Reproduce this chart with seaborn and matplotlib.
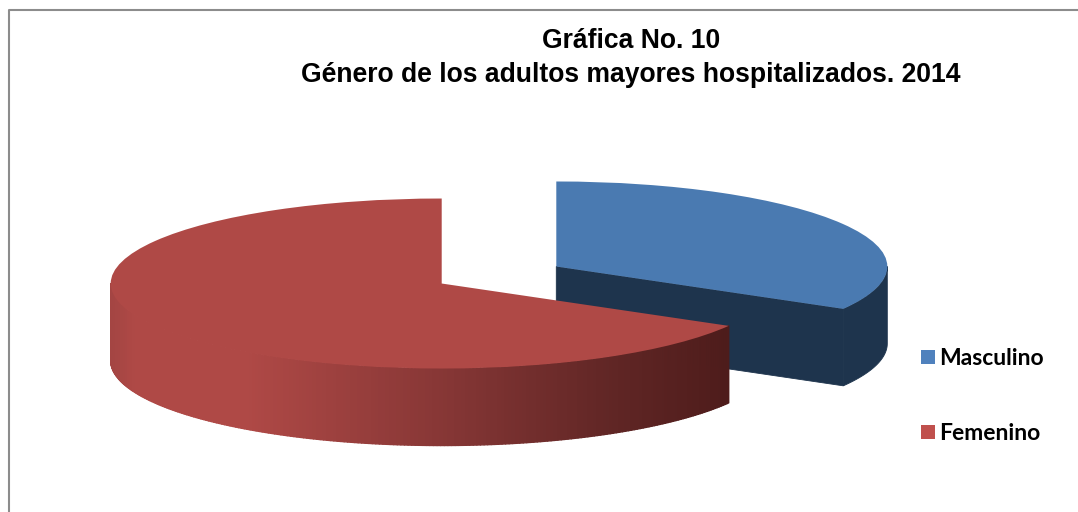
import numpy as np
import seaborn as sns
import matplotlib.pyplot as plt
from matplotlib.colors import LinearSegmentedColormap
from matplotlib.patches import Patch

categorias = ['Masculino', 'Femenino']
valores = [33.3, 66.7]
titulo = 'Gráfica No. 10\nGénero de los adultos mayores hospitalizados. 2014'

color_cara = ['#4A7AB1', '#AF4946']
color_leyenda = ['#4F81BD', '#C0504D']
color_azul_lado = '#1E344D'

W, H = 1078, 512
CX, CY = 499, 275   # centro del pastel en pixeles
RX, RY = 331, 85
ALTO = 77 / RY
EXPLOTA = 0.2

sns.set_theme(style='white')
plt.rcParams['font.family'] = ['Liberation Sans', 'DejaVu Sans']

fig = plt.figure(figsize=(W / 100, H / 100), dpi=100)
ax = fig.add_axes([0, 0, 1, 1])

wedges, _ = ax.pie(valores, explode=[EXPLOTA, EXPLOTA], startangle=90, counterclock=False,
                   colors=color_cara, radius=1, wedgeprops={'linewidth': 0})
ax.set_aspect('auto')
ax.set_xlim(-CX / RX, (W - CX) / RX)
ax.set_ylim((CY - H) / RY, CY / RY)
ax.set_frame_on(False)

sombra_roja = LinearSegmentedColormap.from_list(
    'sombra', [(0, '#A44543'), (0.04, '#AF4946'), (0.22, '#AF4946'),
               (0.55, '#853635'), (0.8, '#622726'), (1, '#4E1C1B')])

corte = 360 * valores[0] / sum(valores)
ang_fin = 90 - corte           # angulo donde termina Masculino
medio = np.radians(90 - corte / 2)
dx, dy = EXPLOTA * np.cos(medio), EXPLOTA * np.sin(medio)

# Masculino: pared exterior y cara del corte
t = np.radians(np.linspace(ang_fin, 0, 40))
x = dx + np.cos(t)
y = dy + np.sin(t)
bx = dx + np.cos(np.radians(ang_fin))
by = dy + np.sin(np.radians(ang_fin))
ax.fill(np.r_[x, x[::-1]], np.r_[y, y[::-1] - ALTO], color=color_azul_lado, lw=0.6, zorder=1)
ax.fill([dx, bx, bx, dx], [dy, by, by - ALTO, dy - ALTO], color=color_azul_lado, lw=0.6, zorder=1)
wedges[0].set_zorder(2)

# Femenino: pared exterior con degradado de izquierda a derecha
angulos = np.linspace(180, 360 + ang_fin, 240)
x_izq = -dx + np.cos(np.radians(angulos[0]))
x_der = -dx + np.cos(np.radians(angulos[-1]))
for a0, a1 in zip(angulos[:-1], angulos[1:]):
    t = np.radians(np.linspace(a0, a1, 4))
    x = -dx + np.cos(t)
    y = -dy + np.sin(t)
    xm = -dx + np.cos(np.radians((a0 + a1) / 2))
    ax.fill(np.r_[x, x[::-1]], np.r_[y, y[::-1] - ALTO], zorder=3, lw=1, joinstyle='round',
            color=sombra_roja((xm - x_izq) / (x_der - x_izq)))
wedges[1].set_zorder(4)

# marco gris del grafico, solo arriba e izquierda
fig.add_artist(plt.Line2D([8.5 / W, 8.5 / W, 1], [0, 1 - 9.5 / H, 1 - 9.5 / H],
                          color='#8C8C8C', lw=1.5))

fig.text(631 / W, 1 - 58 / H, titulo, ha='center', va='center', fontsize=19.1,
         fontweight='bold', color='black', linespacing=1.4)

handles = [Patch(color=c, lw=0) for c in color_leyenda]
fig.legend(handles, categorias, loc='center left', bbox_to_anchor=(900 / W, 1 - 396 / H),
           frameon=False, handlelength=0.61, handleheight=0.61, handletextpad=0.2,
           labelspacing=2.35, labelcolor='black',
           prop={'family': 'Lato', 'weight': 'bold', 'size': 16.5})

fig.savefig('out.png', dpi=100)
